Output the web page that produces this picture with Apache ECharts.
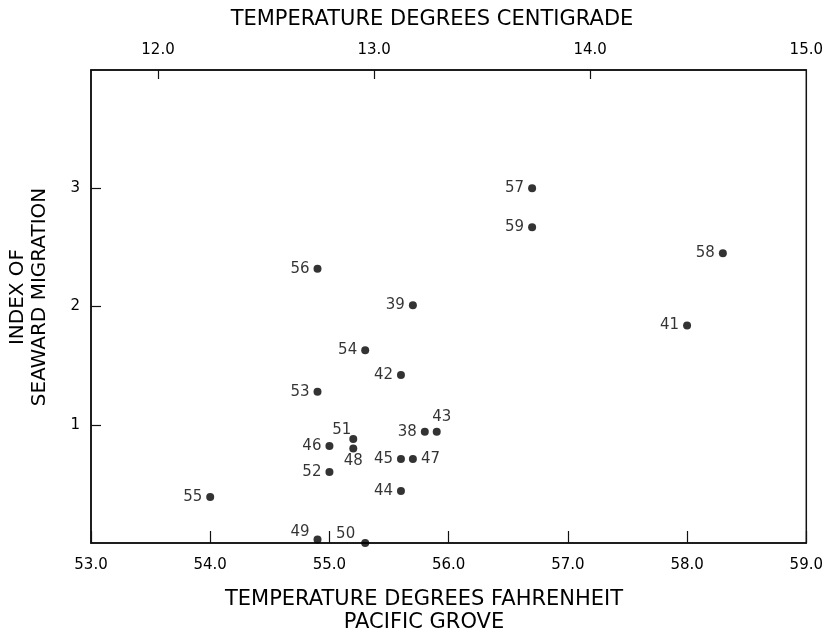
<!DOCTYPE html>
<html>
<head>
<meta charset="utf-8">
<script src="https://cdn.jsdelivr.net/npm/echarts@6/dist/echarts.min.js"></script>
<style>
  html, body { margin: 0; padding: 0; background: #fff; }
  #chart { width: 826px; height: 633px; }
</style>
</head>
<body>
<div id="chart"></div>
<script>
// ---- data ----
const years  = ['38','39','41','42','43','44','45','46','47','48','49','50','51','52','53','54','55','56','57','58','59'];
const tempF  = [55.8, 55.7, 58.0, 55.6, 55.9, 55.6, 55.6, 55.0, 55.7, 55.2, 54.9, 55.3, 55.2, 55.0, 54.9, 55.3, 54.0, 54.9, 56.7, 58.3, 56.7];
const migIdx = [0.94, 2.01, 1.84, 1.42, 0.94, 0.44, 0.71, 0.82, 0.71, 0.80, 0.03, 0.00, 0.88, 0.60, 1.28, 1.63, 0.39, 2.32, 3.00, 2.45, 2.67];
const fTicks = [53, 54, 55, 56, 57, 58, 59];
const cTicks = [12, 13, 14, 15];
const yTicks = [1, 2, 3];

// ---- label placement (styling only) ----
const labelStyle = {
  '43': { position: 'top', distance: 3, offset: [5, 0] },
  '47': { position: 'right', distance: 4 },
  '51': { position: 'left', distance: 0, offset: [2, -9] },
  '48': { position: 'bottom', distance: 1 },
  '49': { position: 'left', distance: 4, offset: [0, -7] },
  '50': { position: 'left', distance: 6, offset: [0, -9] }
};

const FONT = 'DejaVu Sans';
const INK = '#000';

const points = years.map((yr, i) => {
  const item = { value: [tempF[i], migIdx[i], yr] };
  if (labelStyle[yr]) item.label = Object.assign({}, labelStyle[yr]);
  return item;
});

const chart = echarts.init(document.getElementById('chart'), null, { renderer: 'canvas' });

chart.setOption({
  backgroundColor: '#fff',
  animation: false,
  grid: {
    left: 91, right: 19, top: 70, bottom: 90,
    show: true, borderColor: '#111', borderWidth: 1.5, backgroundColor: 'transparent'
  },
  xAxis: [
    {
      type: 'value', position: 'bottom',
      min: fTicks[0], max: fTicks[fTicks.length - 1], interval: 1,
      axisLine: { show: true, lineStyle: { color: '#111', width: 1.5 } },
      axisTick: { show: true, inside: true, length: 12, lineStyle: { color: '#111', width: 1.2 } },
      axisLabel: { margin: 15, color: INK, fontFamily: FONT, fontSize: 15,
                   formatter: v => v.toFixed(1) },
      splitLine: { show: false }
    },
    {
      type: 'value', position: 'top',
      min: 11.69, max: 15,
      axisLine: { show: true, lineStyle: { color: '#111', width: 1.5 } },
      axisTick: { show: true, inside: true, length: 9, customValues: cTicks.slice(0, 3),
                  lineStyle: { color: '#111', width: 1.2 } },
      axisLabel: { margin: 12, color: INK, fontFamily: FONT, fontSize: 15, customValues: cTicks,
                   formatter: v => Number(v).toFixed(1) },
      splitLine: { show: false }
    }
  ],
  yAxis: [
    {
      type: 'value', min: 0, max: 4, interval: 1,
      axisLine: { show: true, lineStyle: { color: '#111', width: 1.5 } },
      axisTick: { show: true, inside: true, length: 10, customValues: yTicks,
                  lineStyle: { color: '#111', width: 1.2 } },
      axisLabel: { margin: 11, color: INK, fontFamily: FONT, fontSize: 15, customValues: yTicks,
                   formatter: v => String(v) },
      splitLine: { show: false }
    }
  ],
  graphic: [
    {
      type: 'text', x: 432, y: 20,
      style: { text: 'TEMPERATURE DEGREES CENTIGRADE', fill: INK, font: '21px "DejaVu Sans"',
               textAlign: 'center', textVerticalAlign: 'middle' }
    },
    {
      type: 'text', x: 424, y: 611,
      style: { text: 'TEMPERATURE DEGREES FAHRENHEIT\nPACIFIC GROVE', fill: INK, font: '21px "DejaVu Sans"',
               lineHeight: 23, textAlign: 'center', textVerticalAlign: 'middle' }
    },
    {
      type: 'text', x: 29, y: 297, rotation: Math.PI / 2,
      style: { text: 'INDEX OF\nSEAWARD MIGRATION', fill: INK, font: '20px "DejaVu Sans"',
               lineHeight: 22, textAlign: 'center', textVerticalAlign: 'middle' }
    }
  ],
  series: [
    {
      type: 'scatter',
      xAxisIndex: 0, yAxisIndex: 0,
      clip: false,
      symbol: 'circle', symbolSize: 8,
      itemStyle: { color: '#000' },
      data: points,
      label: {
        show: true, position: 'left', distance: 4,
        color: INK, fontFamily: FONT, fontSize: 15,
        formatter: p => p.value[2]
      },
      z: 5
    }
  ]
});
</script>
</body>
</html>
